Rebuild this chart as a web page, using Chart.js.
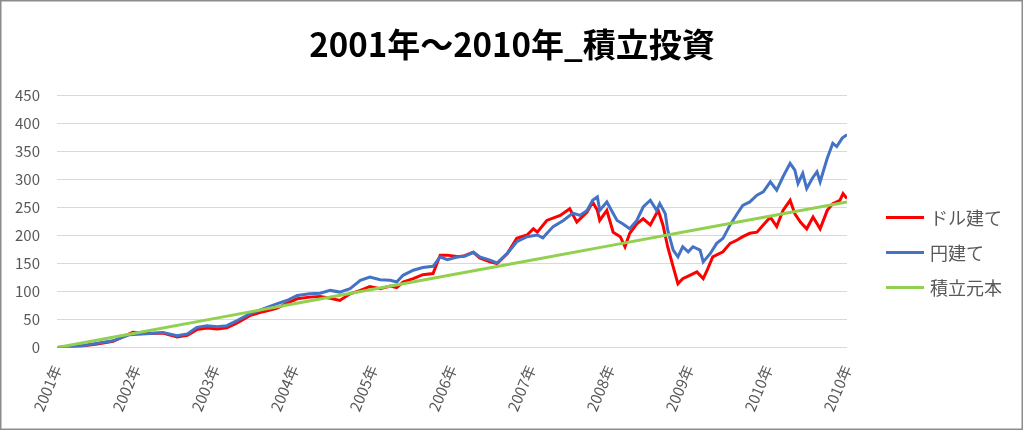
<!DOCTYPE html>
<html>
<head>
<meta charset="utf-8">
<script src="https://cdn.jsdelivr.net/npm/chart.js@4"></script>
<style>
  html, body { margin: 0; padding: 0; background: #fff; }
  #c { display: block; }
</style>
</head>
<body>
<canvas id="c" width="1024" height="431"></canvas>
<script>
// ---- data ----
const titleText = '2001年～2010年_積立投資';
const tickLabels = ['2001年','2002年','2003年','2004年','2005年','2006年','2007年','2008年','2009年','2010年','2010年'];
const seriesNames = ['ドル建て', '円建て', '積立元本'];

// elapsed years since start of 2001
const usdTimes = [0.00,0.33,0.49,0.71,0.96,1.18,1.34,1.52,1.65,1.77,1.90,2.03,2.15,2.28,2.44,2.61,2.78,2.91,3.04,3.20,3.33,3.46,3.58,3.71,3.84,3.96,4.09,4.22,4.30,4.38,4.51,4.63,4.76,4.85,4.94,5.08,5.16,5.27,5.35,5.48,5.57,5.70,5.82,5.95,6.03,6.08,6.20,6.37,6.49,6.58,6.71,6.78,6.84,6.87,6.96,7.04,7.13,7.19,7.25,7.34,7.42,7.51,7.61,7.67,7.73,7.80,7.86,7.92,8.01,8.10,8.18,8.23,8.30,8.43,8.52,8.61,8.68,8.77,8.86,8.94,9.03,9.11,9.19,9.28,9.34,9.41,9.49,9.57,9.66,9.75,9.82,9.91,9.95,10.00];
const usdValues = [0,3,6,11,27,25,26,19,22,32,35,33,35,44,57,64,70,79,87,90,91,88,84,96,102,109,105,110,107,117,123,130,132,165,165,162,164,170,160,153,150,168,195,201,212,206,227,236,248,224,242,260,245,227,245,206,198,180,204,221,230,219,245,219,180,144,114,123,129,135,123,138,162,171,186,192,198,204,206,219,233,216,245,263,239,224,212,233,212,245,257,263,275,266];

const jpyTimes = [0.00,0.33,0.49,0.71,0.92,1.18,1.34,1.52,1.65,1.77,1.90,2.03,2.15,2.28,2.44,2.61,2.78,2.91,3.04,3.20,3.33,3.46,3.58,3.71,3.84,3.96,4.09,4.22,4.30,4.38,4.51,4.63,4.76,4.85,4.94,5.08,5.16,5.27,5.35,5.48,5.57,5.70,5.82,5.95,6.08,6.15,6.28,6.41,6.53,6.62,6.71,6.78,6.84,6.87,6.96,7.03,7.09,7.16,7.25,7.34,7.42,7.51,7.59,7.63,7.70,7.73,7.80,7.86,7.92,7.99,8.05,8.14,8.18,8.27,8.35,8.43,8.52,8.61,8.68,8.77,8.86,8.94,9.03,9.11,9.19,9.28,9.34,9.38,9.44,9.49,9.56,9.62,9.66,9.75,9.82,9.87,9.94,10.00];
const jpyValues = [0,3,7,12,23,25,27,21,24,36,39,37,39,48,60,69,78,84,93,96,97,102,99,105,120,126,121,120,117,129,138,143,145,162,157,162,163,170,162,156,151,168,189,198,201,196,216,227,240,236,245,263,269,245,260,242,227,221,212,227,251,263,245,257,239,210,174,162,180,171,180,174,153,168,186,195,219,239,254,260,272,278,296,281,305,329,317,293,311,284,302,314,296,338,365,359,374,380];

const principalTimes = [0,1,2,3,4,5,6,7,8,9,10];
const principalValues = [0,26,52,78,104,130,156,182,208,234,260];

const yTicks = [0,50,100,150,200,250,300,350,400,450];

// ---- styles ----
const colors = ['#FF0000', '#4472C4', '#92D050'];
const FONT = "'Noto Sans CJK JP', 'Noto Sans', sans-serif";
const startYear = 2001;

function pts(times, values) {
  return times.map((t, i) => ({ x: startYear + t, y: values[i] }));
}

const frame = {
  id: 'frame',
  beforeDraw(chart) {
    const ctx = chart.ctx;
    ctx.save();
    ctx.fillStyle = '#ffffff';
    ctx.fillRect(0, 0, chart.width, chart.height);
    ctx.strokeStyle = '#8c8c8c';
    ctx.lineWidth = 1.5;
    ctx.strokeRect(0.75, 0.75, chart.width - 2.5, chart.height - 2.5);
    ctx.restore();
  }
};

const sideLegend = {
  id: 'sideLegend',
  afterDraw(chart) {
    const ctx = chart.ctx;
    const rows = [217.5, 252.5, 287.5];
    ctx.save();
    ctx.font = '18px ' + FONT;
    ctx.textBaseline = 'middle';
    ctx.textAlign = 'left';
    seriesNames.forEach((name, i) => {
      ctx.strokeStyle = colors[i];
      ctx.lineWidth = 3;
      ctx.beginPath();
      ctx.moveTo(886, rows[i]);
      ctx.lineTo(924, rows[i]);
      ctx.stroke();
      ctx.fillStyle = '#595959';
      ctx.fillText(name, 930, rows[i] + 1);
    });
    ctx.restore();
  }
};

new Chart(document.getElementById('c'), {
  type: 'line',
  data: {
    datasets: [
      { label: seriesNames[0], data: pts(usdTimes, usdValues), borderColor: colors[0], backgroundColor: colors[0], borderWidth: 3, pointRadius: 0, tension: 0, order: 2 },
      { label: seriesNames[1], data: pts(jpyTimes, jpyValues), borderColor: colors[1], backgroundColor: colors[1], borderWidth: 3, pointRadius: 0, tension: 0, order: 1 },
      { label: seriesNames[2], data: pts(principalTimes, principalValues), borderColor: colors[2], backgroundColor: colors[2], borderWidth: 3, pointRadius: 0, tension: 0, order: 0 }
    ]
  },
  options: {
    responsive: false,
    animation: false,
    devicePixelRatio: 1,
    layout: { padding: { left: 0, right: 0, top: 0, bottom: 10 } },
    plugins: {
      legend: { display: false },
      tooltip: { enabled: false },
      title: {
        display: true,
        text: titleText,
        color: '#000000',
        font: { family: FONT, size: 33, weight: 'bold' },
        padding: { top: 25, bottom: 31 }
      }
    },
    scales: {
      x: {
        type: 'linear',
        min: startYear,
        max: startYear + 10,
        grid: { display: false },
        border: { display: false },
        ticks: {
          stepSize: 1,
          autoSkip: false,
          maxRotation: 67,
          minRotation: 67,
          padding: 7,
          color: '#595959',
          font: { family: FONT, size: 15 },
          callback: (v) => tickLabels[Math.round(v - startYear)]
        }
      },
      y: {
        min: 0,
        max: 450,
        afterBuildTicks: (axis) => { axis.ticks = yTicks.map(v => ({ value: v })); },
        afterFit: (axis) => { axis.width = 57; },
        grid: { color: '#D9D9D9', lineWidth: 1, drawTicks: false },
        border: { display: false },
        ticks: {
          padding: 17,
          color: '#595959',
          font: { family: FONT, size: 15 }
        }
      },
      spacer: {
        position: 'right',
        display: true,
        afterFit: (axis) => { axis.width = 177; },
        grid: { display: false },
        border: { display: false },
        ticks: { display: false }
      }
    }
  },
  plugins: [frame, sideLegend]
});
</script>
</body>
</html>
